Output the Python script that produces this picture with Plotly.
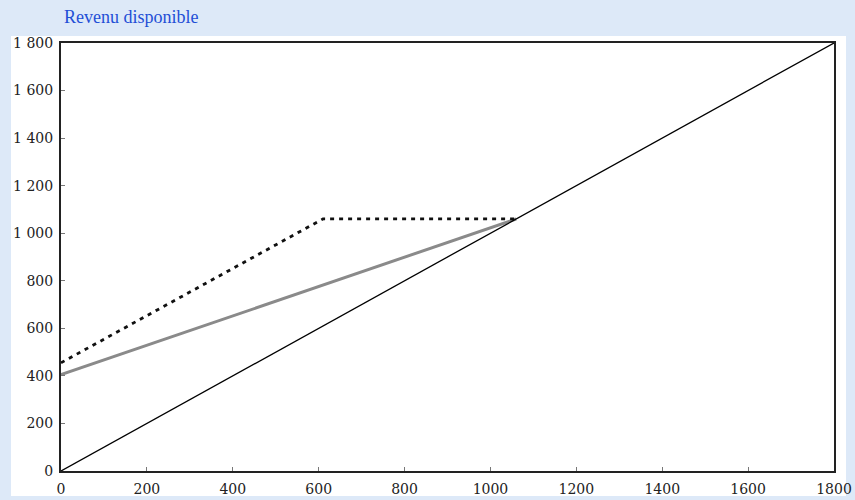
import plotly.graph_objects as go

# Data
diag_x = [0, 1800]
diag_y = [0, 1800]
gray_x = [0, 1060]
gray_y = [405, 1060]
dash_x = [0, 610, 1060]
dash_y = [455, 1060, 1060]

x_tickvals = [0, 200, 400, 600, 800, 1000, 1200, 1400, 1600, 1800]
x_ticktext = ["0", "200", "400", "600", "800", "1000", "1200", "1400", "1600", "1800"]
y_tickvals = [0, 200, 400, 600, 800, 1000, 1200, 1400, 1600, 1800]
y_ticktext = ["0", "200", "400", "600", "800", "1 000", "1 200", "1 400", "1 600", "1 800"]
title_text = "Revenu disponible"

W, H = 855, 500
L, R, T, B = 61, 834, 43, 471

fig = go.Figure()
fig.add_trace(go.Scatter(x=gray_x, y=gray_y, mode="lines",
                         line=dict(color="#8a8a8a", width=3), hoverinfo="skip"))
fig.add_trace(go.Scatter(x=dash_x, y=dash_y, mode="lines",
                         line=dict(color="#111111", width=2.8, dash="4px,5px"), hoverinfo="skip"))
fig.add_trace(go.Scatter(x=diag_x, y=diag_y, mode="lines",
                         line=dict(color="#000000", width=1.3), hoverinfo="skip"))

pw, ph = R - L, B - T
def px_x(p):
    return (p - L) / pw
def px_y(p):
    return (B - p) / ph

fig.add_shape(type="rect", xref="paper", yref="paper",
              x0=px_x(11), x1=px_x(846), y0=px_y(496), y1=px_y(36),
              fillcolor="white", line=dict(width=0), layer="below")

fig.add_annotation(text=title_text, xref="paper", yref="paper",
                   x=px_x(62), y=px_y(17), xanchor="left", yanchor="middle",
                   showarrow=False,
                   font=dict(family="Liberation Serif, serif", size=18, color="#1f4fd6"))

axis_common = dict(showgrid=False, zeroline=False, showline=True, linecolor="#222222",
                   linewidth=2, mirror=True, ticks="inside", ticklen=4, tickcolor="#777777",
                   tickwidth=1, automargin=False,
                   tickfont=dict(family="DejaVu Serif, serif", size=14, color="#222222"))

fig.update_layout(
    width=W, height=H,
    margin=dict(l=L, r=W - R, t=T, b=H - B),
    paper_bgcolor="#dde9f8",
    plot_bgcolor="white",
    showlegend=False,
    xaxis=dict(range=[0, 1800], tickvals=x_tickvals, ticktext=x_ticktext,
               ticklabelstandoff=4, **axis_common),
    yaxis=dict(range=[0, 1800], tickvals=y_tickvals, ticktext=y_ticktext,
               ticklabelstandoff=3, **axis_common),
)

post = ("document.body.style.margin='0';"
        "var d=document.getElementById('{plot_id}');"
        "d.style.position='fixed';d.style.left='0px';d.style.top='0px';")

fig.write_html("out.html", config={"displayModeBar": False}, post_script=post)
